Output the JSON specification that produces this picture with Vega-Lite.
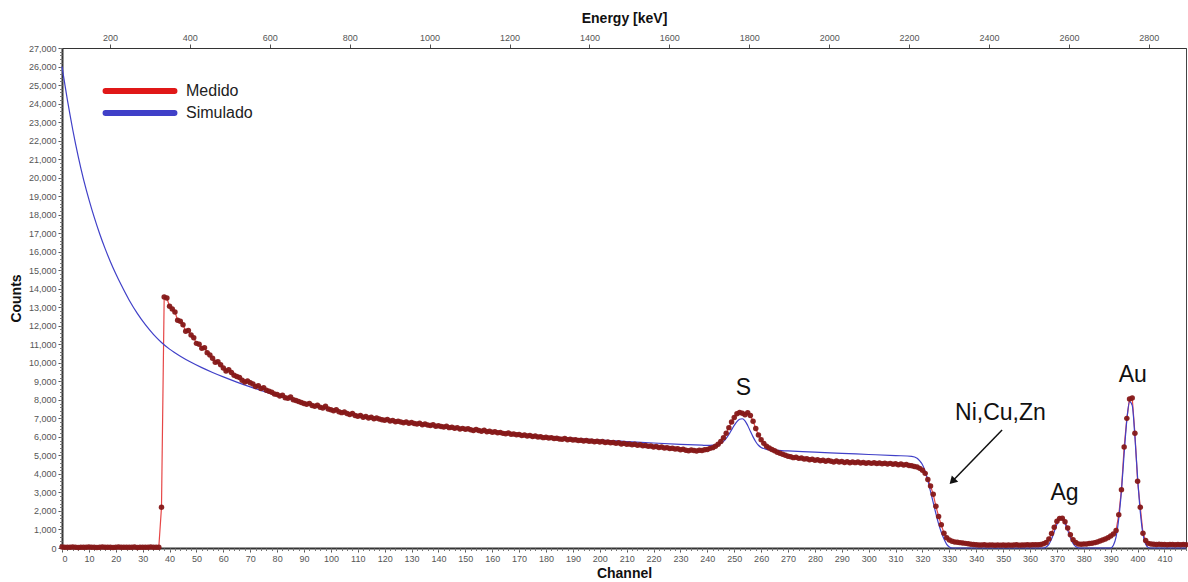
{
"$schema": "https://vega.github.io/schema/vega-lite/v6.json",
"width": 1124, "height": 500,
"autosize": {"type": "none"},
"padding": {"left": 62, "top": 48, "right": 2, "bottom": 34},
"background": "white",
"config": {
  "font": "Liberation Sans",
  "view": {"stroke": "#444", "strokeWidth": 1},
  "axis": {"grid": false, "labelOverlap": false, "labelFont": "Liberation Sans", "labelFontSize": 9, "labelColor": "#555", "tickColor": "#555", "domainColor": "#333", "titleFont": "Liberation Sans", "titleFontSize": 14, "titleFontWeight": "bold", "titleColor": "#111"}
},
"datasets": {
"medido": [
{"channel":0,"counts":60},{"channel":1,"counts":40},{"channel":2,"counts":45},{"channel":3,"counts":35},{"channel":4,"counts":50},{"channel":5,"counts":40},{"channel":6,"counts":30},{"channel":7,"counts":45},{"channel":8,"counts":40},{"channel":9,"counts":35},
{"channel":10,"counts":50},{"channel":11,"counts":40},{"channel":12,"counts":45},{"channel":13,"counts":30},{"channel":14,"counts":40},{"channel":15,"counts":50},{"channel":16,"counts":35},{"channel":17,"counts":40},{"channel":18,"counts":45},{"channel":19,"counts":30},
{"channel":20,"counts":40},{"channel":21,"counts":50},{"channel":22,"counts":35},{"channel":23,"counts":40},{"channel":24,"counts":45},{"channel":25,"counts":35},{"channel":26,"counts":40},{"channel":27,"counts":50},{"channel":28,"counts":30},{"channel":29,"counts":40},
{"channel":30,"counts":45},{"channel":31,"counts":35},{"channel":32,"counts":40},{"channel":33,"counts":50},{"channel":34,"counts":35},{"channel":35,"counts":40},{"channel":36,"counts":45},{"channel":37,"counts":2200},{"channel":38,"counts":13550},{"channel":39,"counts":13500},
{"channel":40,"counts":13050},{"channel":41,"counts":12900},{"channel":42,"counts":12750},{"channel":43,"counts":12300},{"channel":44,"counts":12250},{"channel":45,"counts":12050},{"channel":46,"counts":11700},{"channel":47,"counts":11750},{"channel":48,"counts":11500},{"channel":49,"counts":11350},
{"channel":50,"counts":11050},{"channel":51,"counts":11000},{"channel":52,"counts":10780},{"channel":53,"counts":10820},{"channel":54,"counts":10550},{"channel":55,"counts":10420},{"channel":56,"counts":10250},{"channel":57,"counts":10030},{"channel":58,"counts":10060},{"channel":59,"counts":9900},
{"channel":60,"counts":9720},{"channel":61,"counts":9560},{"channel":62,"counts":9620},{"channel":63,"counts":9480},{"channel":64,"counts":9330},{"channel":65,"counts":9260},{"channel":66,"counts":9210},{"channel":67,"counts":9060},{"channel":68,"counts":8960},{"channel":69,"counts":9020},
{"channel":70,"counts":8920},{"channel":71,"counts":8860},{"channel":72,"counts":8720},{"channel":73,"counts":8760},{"channel":74,"counts":8610},{"channel":75,"counts":8660},{"channel":76,"counts":8520},{"channel":77,"counts":8470},{"channel":78,"counts":8410},{"channel":79,"counts":8310},
{"channel":80,"counts":8290},{"channel":81,"counts":8210},{"channel":82,"counts":8250},{"channel":83,"counts":8110},{"channel":84,"counts":8090},{"channel":85,"counts":8160},{"channel":86,"counts":8010},{"channel":87,"counts":7960},{"channel":88,"counts":7910},{"channel":89,"counts":7860},
{"channel":90,"counts":7800},{"channel":91,"counts":7760},{"channel":92,"counts":7810},{"channel":93,"counts":7700},{"channel":94,"counts":7660},{"channel":95,"counts":7710},{"channel":96,"counts":7600},{"channel":97,"counts":7560},{"channel":98,"counts":7660},{"channel":99,"counts":7510},
{"channel":100,"counts":7460},{"channel":101,"counts":7410},{"channel":102,"counts":7460},{"channel":103,"counts":7360},{"channel":104,"counts":7310},{"channel":105,"counts":7350},{"channel":106,"counts":7260},{"channel":107,"counts":7210},{"channel":108,"counts":7260},{"channel":109,"counts":7160},
{"channel":110,"counts":7120},{"channel":111,"counts":7160},{"channel":112,"counts":7060},{"channel":113,"counts":7100},{"channel":114,"counts":7020},{"channel":115,"counts":7060},{"channel":116,"counts":6980},{"channel":117,"counts":7020},{"channel":118,"counts":6960},{"channel":119,"counts":6920},
{"channel":120,"counts":6900},{"channel":121,"counts":6940},{"channel":122,"counts":6860},{"channel":123,"counts":6880},{"channel":124,"counts":6820},{"channel":125,"counts":6850},{"channel":126,"counts":6800},{"channel":127,"counts":6760},{"channel":128,"counts":6810},{"channel":129,"counts":6740},
{"channel":130,"counts":6780},{"channel":131,"counts":6720},{"channel":132,"counts":6700},{"channel":133,"counts":6740},{"channel":134,"counts":6660},{"channel":135,"counts":6690},{"channel":136,"counts":6640},{"channel":137,"counts":6610},{"channel":138,"counts":6660},{"channel":139,"counts":6580},
{"channel":140,"counts":6600},{"channel":141,"counts":6560},{"channel":142,"counts":6530},{"channel":143,"counts":6580},{"channel":144,"counts":6500},{"channel":145,"counts":6520},{"channel":146,"counts":6470},{"channel":147,"counts":6500},{"channel":148,"counts":6430},{"channel":149,"counts":6460},
{"channel":150,"counts":6410},{"channel":151,"counts":6440},{"channel":152,"counts":6380},{"channel":153,"counts":6350},{"channel":154,"counts":6400},{"channel":155,"counts":6340},{"channel":156,"counts":6310},{"channel":157,"counts":6360},{"channel":158,"counts":6280},{"channel":159,"counts":6300},
{"channel":160,"counts":6250},{"channel":161,"counts":6280},{"channel":162,"counts":6220},{"channel":163,"counts":6240},{"channel":164,"counts":6190},{"channel":165,"counts":6170},{"channel":166,"counts":6210},{"channel":167,"counts":6140},{"channel":168,"counts":6160},{"channel":169,"counts":6110},
{"channel":170,"counts":6130},{"channel":171,"counts":6080},{"channel":172,"counts":6100},{"channel":173,"counts":6050},{"channel":174,"counts":6070},{"channel":175,"counts":6020},{"channel":176,"counts":6050},{"channel":177,"counts":5990},{"channel":178,"counts":6010},{"channel":179,"counts":5960},
{"channel":180,"counts":5980},{"channel":181,"counts":5940},{"channel":182,"counts":5960},{"channel":183,"counts":5910},{"channel":184,"counts":5930},{"channel":185,"counts":5890},{"channel":186,"counts":5870},{"channel":187,"counts":5910},{"channel":188,"counts":5850},{"channel":189,"counts":5870},
{"channel":190,"counts":5830},{"channel":191,"counts":5850},{"channel":192,"counts":5800},{"channel":193,"counts":5820},{"channel":194,"counts":5780},{"channel":195,"counts":5810},{"channel":196,"counts":5760},{"channel":197,"counts":5780},{"channel":198,"counts":5740},{"channel":199,"counts":5770},
{"channel":200,"counts":5730},{"channel":201,"counts":5750},{"channel":202,"counts":5700},{"channel":203,"counts":5720},{"channel":204,"counts":5680},{"channel":205,"counts":5700},{"channel":206,"counts":5650},{"channel":207,"counts":5680},{"channel":208,"counts":5620},{"channel":209,"counts":5650},
{"channel":210,"counts":5600},{"channel":211,"counts":5620},{"channel":212,"counts":5570},{"channel":213,"counts":5600},{"channel":214,"counts":5550},{"channel":215,"counts":5570},{"channel":216,"counts":5520},{"channel":217,"counts":5540},{"channel":218,"counts":5490},{"channel":219,"counts":5510},
{"channel":220,"counts":5460},{"channel":221,"counts":5480},{"channel":222,"counts":5430},{"channel":223,"counts":5450},{"channel":224,"counts":5400},{"channel":225,"counts":5420},{"channel":226,"counts":5370},{"channel":227,"counts":5390},{"channel":228,"counts":5340},{"channel":229,"counts":5360},
{"channel":230,"counts":5310},{"channel":231,"counts":5330},{"channel":232,"counts":5280},{"channel":233,"counts":5250},{"channel":234,"counts":5290},{"channel":235,"counts":5260},{"channel":236,"counts":5240},{"channel":237,"counts":5280},{"channel":238,"counts":5270},{"channel":239,"counts":5300},
{"channel":240,"counts":5320},{"channel":241,"counts":5380},{"channel":242,"counts":5420},{"channel":243,"counts":5500},{"channel":244,"counts":5600},{"channel":245,"counts":5750},{"channel":246,"counts":5950},{"channel":247,"counts":6200},{"channel":248,"counts":6500},{"channel":249,"counts":6800},
{"channel":250,"counts":7050},{"channel":251,"counts":7250},{"channel":252,"counts":7320},{"channel":253,"counts":7280},{"channel":254,"counts":7200},{"channel":255,"counts":7300},{"channel":256,"counts":7150},{"channel":257,"counts":6850},{"channel":258,"counts":6450},{"channel":259,"counts":6100},
{"channel":260,"counts":5850},{"channel":261,"counts":5650},{"channel":262,"counts":5500},{"channel":263,"counts":5400},{"channel":264,"counts":5320},{"channel":265,"counts":5250},{"channel":266,"counts":5170},{"channel":267,"counts":5120},{"channel":268,"counts":5060},{"channel":269,"counts":5010},
{"channel":270,"counts":4960},{"channel":271,"counts":4930},{"channel":272,"counts":4880},{"channel":273,"counts":4900},{"channel":274,"counts":4840},{"channel":275,"counts":4860},{"channel":276,"counts":4800},{"channel":277,"counts":4820},{"channel":278,"counts":4760},{"channel":279,"counts":4790},
{"channel":280,"counts":4740},{"channel":281,"counts":4770},{"channel":282,"counts":4710},{"channel":283,"counts":4740},{"channel":284,"counts":4690},{"channel":285,"counts":4720},{"channel":286,"counts":4680},{"channel":287,"counts":4650},{"channel":288,"counts":4700},{"channel":289,"counts":4640},
{"channel":290,"counts":4670},{"channel":291,"counts":4620},{"channel":292,"counts":4660},{"channel":293,"counts":4600},{"channel":294,"counts":4640},{"channel":295,"counts":4610},{"channel":296,"counts":4650},{"channel":297,"counts":4590},{"channel":298,"counts":4620},{"channel":299,"counts":4580},
{"channel":300,"counts":4610},{"channel":301,"counts":4570},{"channel":302,"counts":4600},{"channel":303,"counts":4560},{"channel":304,"counts":4590},{"channel":305,"counts":4550},{"channel":306,"counts":4580},{"channel":307,"counts":4530},{"channel":308,"counts":4570},{"channel":309,"counts":4520},
{"channel":310,"counts":4550},{"channel":311,"counts":4500},{"channel":312,"counts":4530},{"channel":313,"counts":4480},{"channel":314,"counts":4510},{"channel":315,"counts":4460},{"channel":316,"counts":4440},{"channel":317,"counts":4400},{"channel":318,"counts":4370},{"channel":319,"counts":4300},
{"channel":320,"counts":4200},{"channel":321,"counts":4030},{"channel":322,"counts":3700},{"channel":323,"counts":3350},{"channel":324,"counts":2900},{"channel":325,"counts":2250},{"channel":326,"counts":1700},{"channel":327,"counts":1250},{"channel":328,"counts":800},{"channel":329,"counts":550},
{"channel":330,"counts":430},{"channel":331,"counts":370},{"channel":332,"counts":330},{"channel":333,"counts":310},{"channel":334,"counts":290},{"channel":335,"counts":270},{"channel":336,"counts":250},{"channel":337,"counts":230},{"channel":338,"counts":200},{"channel":339,"counts":185},
{"channel":340,"counts":175},{"channel":341,"counts":165},{"channel":342,"counts":160},{"channel":343,"counts":170},{"channel":344,"counts":155},{"channel":345,"counts":165},{"channel":346,"counts":160},{"channel":347,"counts":150},{"channel":348,"counts":165},{"channel":349,"counts":155},
{"channel":350,"counts":160},{"channel":351,"counts":150},{"channel":352,"counts":165},{"channel":353,"counts":155},{"channel":354,"counts":160},{"channel":355,"counts":170},{"channel":356,"counts":155},{"channel":357,"counts":165},{"channel":358,"counts":160},{"channel":359,"counts":170},
{"channel":360,"counts":165},{"channel":361,"counts":175},{"channel":362,"counts":170},{"channel":363,"counts":180},{"channel":364,"counts":190},{"channel":365,"counts":230},{"channel":366,"counts":300},{"channel":367,"counts":480},{"channel":368,"counts":780},{"channel":369,"counts":1120},
{"channel":370,"counts":1450},{"channel":371,"counts":1600},{"channel":372,"counts":1610},{"channel":373,"counts":1420},{"channel":374,"counts":1080},{"channel":375,"counts":720},{"channel":376,"counts":450},{"channel":377,"counts":300},{"channel":378,"counts":220},{"channel":379,"counts":200},
{"channel":380,"counts":210},{"channel":381,"counts":220},{"channel":382,"counts":240},{"channel":383,"counts":260},{"channel":384,"counts":290},{"channel":385,"counts":320},{"channel":386,"counts":380},{"channel":387,"counts":430},{"channel":388,"counts":490},{"channel":389,"counts":560},
{"channel":390,"counts":650},{"channel":391,"counts":750},{"channel":392,"counts":950},{"channel":393,"counts":1800},{"channel":394,"counts":3150},{"channel":395,"counts":5450},{"channel":396,"counts":7000},{"channel":397,"counts":8050},{"channel":398,"counts":8100},{"channel":399,"counts":6200},
{"channel":400,"counts":3600},{"channel":401,"counts":2200},{"channel":402,"counts":800},{"channel":403,"counts":400},{"channel":404,"counts":250},{"channel":405,"counts":210},{"channel":406,"counts":200},{"channel":407,"counts":190},{"channel":408,"counts":200},{"channel":409,"counts":185},
{"channel":410,"counts":195},{"channel":411,"counts":180},{"channel":412,"counts":190},{"channel":413,"counts":185},{"channel":414,"counts":180},{"channel":415,"counts":190},{"channel":416,"counts":175},{"channel":417,"counts":185},{"channel":418,"counts":180}
],
"simulado": [
{"channel":0,"counts":26000},{"channel":1,"counts":25090},{"channel":2,"counts":24200},{"channel":3,"counts":23370},{"channel":4,"counts":22585},{"channel":5,"counts":21845},{"channel":6,"counts":21155},{"channel":7,"counts":20510},{"channel":8,"counts":19910},{"channel":9,"counts":19350},
{"channel":10,"counts":18830},{"channel":12,"counts":17850},{"channel":14,"counts":16970},{"channel":16,"counts":16180},{"channel":18,"counts":15460},{"channel":20,"counts":14810},{"channel":22,"counts":14210},{"channel":25,"counts":13380},{"channel":28,"counts":12670},{"channel":31,"counts":12060},
{"channel":34,"counts":11540},{"channel":37,"counts":11100},{"channel":40,"counts":10740},{"channel":44,"counts":10360},{"channel":48,"counts":10030},{"channel":52,"counts":9740},{"channel":56,"counts":9480},{"channel":60,"counts":9240},{"channel":65,"counts":8960},{"channel":70,"counts":8700},
{"channel":76,"counts":8410},{"channel":82,"counts":8140},{"channel":88,"counts":7890},{"channel":95,"counts":7630},{"channel":100,"counts":7460},{"channel":110,"counts":7160},{"channel":120,"counts":6900},{"channel":130,"counts":6700},{"channel":140,"counts":6530},{"channel":150,"counts":6380},
{"channel":160,"counts":6250},{"channel":170,"counts":6130},{"channel":180,"counts":6020},{"channel":190,"counts":5920},{"channel":200,"counts":5830},{"channel":210,"counts":5750},{"channel":220,"counts":5670},{"channel":230,"counts":5600},{"channel":238,"counts":5550},{"channel":240,"counts":5540},
{"channel":242,"counts":5550},{"channel":244,"counts":5590},{"channel":245,"counts":5650},{"channel":246,"counts":5760},{"channel":247,"counts":5920},{"channel":248,"counts":6130},{"channel":249,"counts":6380},{"channel":250,"counts":6620},{"channel":251,"counts":6820},{"channel":252,"counts":6950},
{"channel":253,"counts":6980},{"channel":254,"counts":6870},{"channel":255,"counts":6620},{"channel":256,"counts":6300},{"channel":257,"counts":6000},{"channel":258,"counts":5740},{"channel":259,"counts":5550},{"channel":260,"counts":5430},{"channel":262,"counts":5330},{"channel":265,"counts":5280},
{"channel":270,"counts":5240},{"channel":280,"counts":5180},{"channel":290,"counts":5110},{"channel":300,"counts":5050},{"channel":310,"counts":4990},{"channel":316,"counts":4950},{"channel":318,"counts":4850},{"channel":319,"counts":4700},{"channel":320,"counts":4500},{"channel":321,"counts":4150},
{"channel":322,"counts":3650},{"channel":323,"counts":3050},{"channel":324,"counts":2450},{"channel":325,"counts":1850},{"channel":326,"counts":1300},{"channel":327,"counts":850},{"channel":328,"counts":480},{"channel":329,"counts":200},{"channel":330,"counts":60},{"channel":331,"counts":0},
{"channel":365,"counts":0},{"channel":366,"counts":60},{"channel":367,"counts":200},{"channel":368,"counts":480},{"channel":369,"counts":880},{"channel":370,"counts":1280},{"channel":371,"counts":1540},{"channel":372,"counts":1560},{"channel":373,"counts":1330},{"channel":374,"counts":950},
{"channel":375,"counts":560},{"channel":376,"counts":250},{"channel":377,"counts":80},{"channel":378,"counts":10},{"channel":379,"counts":0},{"channel":390,"counts":0},{"channel":391,"counts":150},{"channel":392,"counts":600},{"channel":393,"counts":1600},{"channel":394,"counts":3100},
{"channel":395,"counts":5100},{"channel":396,"counts":6900},{"channel":397,"counts":7900},{"channel":398,"counts":7700},{"channel":399,"counts":6000},{"channel":400,"counts":3800},{"channel":401,"counts":1950},{"channel":402,"counts":750},{"channel":403,"counts":200},{"channel":404,"counts":30},
{"channel":405,"counts":0},{"channel":418,"counts":0}
],
"notes": [
{"label":"S","channel":253.4,"counts":8650},
{"label":"Ni,Cu,Zn","channel":349,"counts":7300},
{"label":"Ag","channel":372.8,"counts":2950},
{"label":"Au","channel":398.2,"counts":9350}
],
"arrow": [
{"channel":349.6,"counts":6370,"channel_end":331.1,"counts_end":3600}
],
"energy": [
{"energy":80},{"energy":2893}
],
"frame": [
{"channel":0,"counts":0},{"channel":418,"counts":27000}
]
},
"layer": [
{
"layer": [
{
"data": {"name": "medido"},
"mark": {"type": "line", "strokeWidth": 1.2, "opacity": 0.8},
"encoding": {
  "x": {"field": "channel", "type": "quantitative", "scale": {"domain": [0, 418], "nice": false, "zero": false}, "axis": null},
  "y": {"field": "counts", "type": "quantitative", "scale": {"domain": [0, 27000], "nice": false}, "axis": null},
  "color": {"datum": "Medido", "type": "nominal",
            "scale": {"domain": ["Medido", "Simulado"], "range": ["#e01818", "#4040c8"]},
            "legend": {"orient": "none", "legendX": 68, "legendY": 33, "title": null, "symbolType": "M-5,0H5", "symbolStrokeWidth": 6, "symbolSize": 190, "symbolOpacity": 1,
                       "labelFontSize": 16, "labelFont": "Liberation Sans", "labelColor": "#222", "rowPadding": -5, "labelOffset": 36,
                       "encode": {"symbols": {"update": {"strokeCap": {"value": "round"}, "opacity": {"value": 1}}}}}}
}
},
{
"data": {"name": "simulado"},
"mark": {"type": "line", "strokeWidth": 1.2, "interpolate": "monotone"},
"encoding": {
  "x": {"field": "channel", "type": "quantitative", "axis": null},
  "y": {"field": "counts", "type": "quantitative", "axis": null},
  "color": {"datum": "Simulado", "type": "nominal"}
}
},
{
"data": {"name": "medido"},
"mark": {"type": "circle", "size": 30, "color": "#861818", "opacity": 0.95},
"encoding": {
  "x": {"field": "channel", "type": "quantitative", "axis": null},
  "y": {"field": "counts", "type": "quantitative", "axis": null}
}
},
{
"data": {"name": "notes"},
"mark": {"type": "text", "fontSize": 23, "font": "Liberation Sans", "color": "#111", "align": "center", "baseline": "middle"},
"encoding": {
  "x": {"field": "channel", "type": "quantitative", "axis": null},
  "y": {"field": "counts", "type": "quantitative", "axis": null},
  "text": {"field": "label"}
}
},
{
"data": {"name": "arrow"},
"mark": {"type": "rule", "color": "#111", "strokeWidth": 1.5},
"encoding": {
  "x": {"field": "channel", "type": "quantitative", "axis": null},
  "y": {"field": "counts", "type": "quantitative", "axis": null},
  "x2": {"field": "channel_end"},
  "y2": {"field": "counts_end"}
}
},
{
"data": {"name": "arrow"},
"mark": {"type": "point", "shape": "triangle-up", "filled": true, "color": "#111", "size": 80, "angle": 224, "opacity": 1},
"encoding": {
  "x": {"field": "channel_end", "type": "quantitative", "axis": null},
  "y": {"field": "counts_end", "type": "quantitative", "axis": null}
}
}
]
},
{
"data": {"name": "energy"},
"mark": {"type": "point", "opacity": 0},
"encoding": {
  "x": {"field": "energy", "type": "quantitative", "scale": {"domain": [80, 2893], "nice": false, "zero": false},
        "axis": {"orient": "top", "title": "Energy [keV]", "format": "d", "labelOverlap": false, "values": [200,400,600,800,1000,1200,1400,1600,1800,2000,2200,2400,2600,2800],
                 "domainWidth": 1, "tickSize": 4, "labelPadding": 2, "titlePadding": 8}}
}
},
{
"data": {"name": "frame"},
"mark": {"type": "point", "opacity": 0},
"encoding": {
  "x": {"field": "channel", "type": "quantitative", "scale": {"domain": [0, 418], "nice": false, "zero": false},
        "axis": {"orient": "bottom", "title": "Channel", "format": "d", "labelOverlap": false, "values": [0,10,20,30,40,50,60,70,80,90,100,110,120,130,140,150,160,170,180,190,200,210,220,230,240,250,260,270,280,290,300,310,320,330,340,350,360,370,380,390,400,410],
                 "domainWidth": 2, "tickSize": 4, "labelPadding": 2, "titlePadding": 3}},
  "y": {"field": "counts", "type": "quantitative", "scale": {"domain": [0, 27000], "nice": false},
        "axis": {"orient": "left", "title": "Counts", "format": ",d", "labelOverlap": false, "values": [0,1000,2000,3000,4000,5000,6000,7000,8000,9000,10000,11000,12000,13000,14000,15000,16000,17000,18000,19000,20000,21000,22000,23000,24000,25000,26000,27000],
                 "domainWidth": 2, "tickSize": 4, "labelPadding": 2, "titlePadding": 5}}
}
},
{
"data": {"name": "frame"},
"mark": {"type": "point", "opacity": 0},
"encoding": {
  "x": {"field": "channel", "type": "quantitative", "scale": {"domain": [0, 418], "nice": false, "zero": false},
        "axis": {"orient": "bottom", "title": null, "labels": false, "domain": false, "tickCount": 209, "tickSize": 2.5, "tickColor": "#777"}},
  "y": {"field": "counts", "type": "quantitative", "scale": {"domain": [0, 27000], "nice": false},
        "axis": {"orient": "left", "title": null, "labels": false, "domain": false, "tickCount": 135, "tickSize": 2.5, "tickColor": "#777"}}
}
}
],
"resolve": {"scale": {"x": "independent", "y": "independent"}}
}
